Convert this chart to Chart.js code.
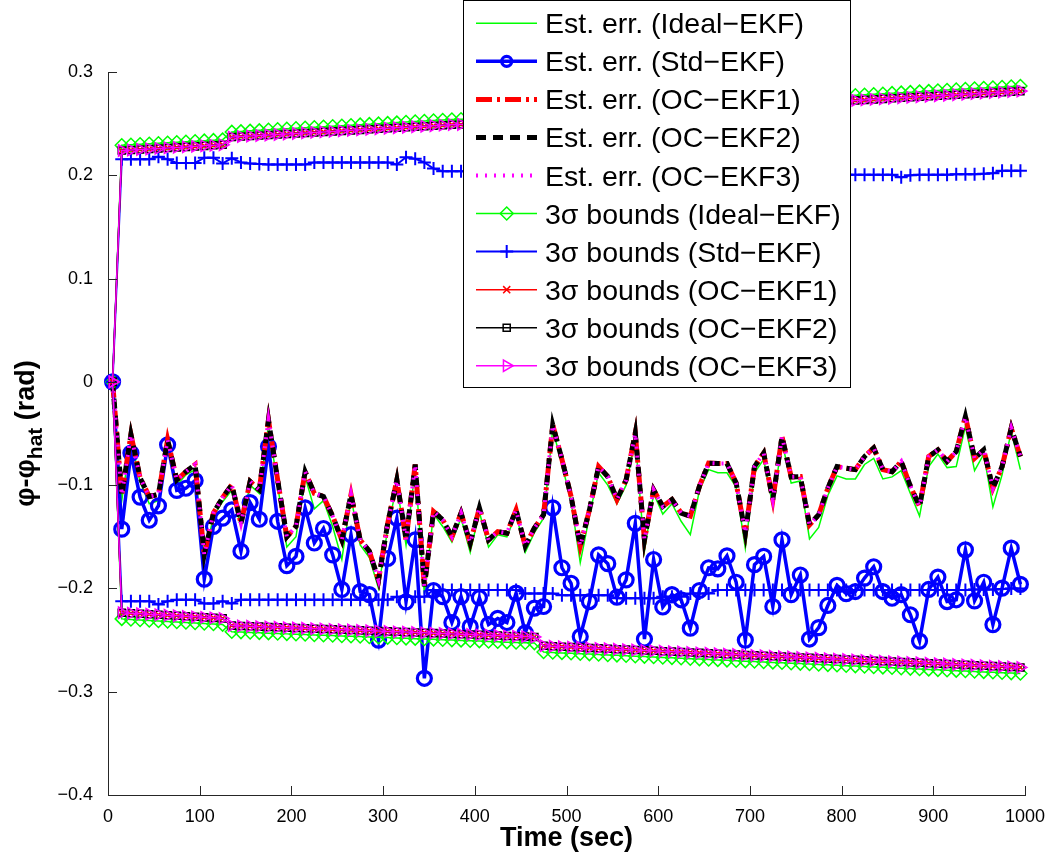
<!DOCTYPE html>
<html>
<head>
<meta charset="utf-8">
<title>Heading error</title>
<script src="https://cdn.jsdelivr.net/npm/chart.js@4.4.0/dist/chart.umd.min.js"></script>
<style>
  html, body { margin: 0; padding: 0; background: #fff; }
  #wrap { width: 1054px; height: 860px; }
</style>
</head>
<body>
<div id="wrap"><canvas id="myChart" width="1054" height="860"></canvas></div>
<script>
const FONT = "'Liberation Sans', Arial, Helvetica, sans-serif";

// time stamps (sec)
const times = [
  5, 15, 25, 35, 45, 55, 65, 75, 85, 95,
  105, 115, 125, 135, 145, 155, 165, 175, 185, 195,
  205, 215, 225, 235, 245, 255, 265, 275, 285, 295,
  305, 315, 325, 335, 345, 355, 365, 375, 385, 395,
  405, 415, 425, 435, 445, 455, 465, 475, 485, 495,
  505, 515, 525, 535, 545, 555, 565, 575, 585, 595,
  605, 615, 625, 635, 645, 655, 665, 675, 685, 695,
  705, 715, 725, 735, 745, 755, 765, 775, 785, 795,
  805, 815, 825, 835, 845, 855, 865, 875, 885, 895,
  905, 915, 925, 935, 945, 955, 965, 975, 985, 995
];

// estimation errors
const errIdeal = [
  0, -0.115, -0.055, -0.097, -0.118, -0.115, -0.06, -0.1, -0.09, -0.085,
  -0.172, -0.13, -0.116, -0.105, -0.14, -0.1, -0.108, -0.042, -0.1, -0.16,
  -0.15, -0.092, -0.123, -0.115, -0.14, -0.172, -0.112, -0.158, -0.17, -0.2,
  -0.142, -0.1, -0.158, -0.085, -0.205, -0.128, -0.14, -0.155, -0.132, -0.165,
  -0.126, -0.16, -0.148, -0.15, -0.128, -0.165, -0.146, -0.132, -0.046, -0.08,
  -0.116, -0.175, -0.13, -0.088, -0.1, -0.118, -0.1, -0.055, -0.164, -0.108,
  -0.128, -0.118, -0.135, -0.148, -0.105, -0.085, -0.088, -0.088, -0.102, -0.161,
  -0.088, -0.075, -0.12, -0.058, -0.098, -0.096, -0.152, -0.141, -0.11, -0.091,
  -0.094, -0.094, -0.08, -0.074, -0.094, -0.092, -0.086, -0.108, -0.13, -0.082,
  -0.07, -0.083, -0.082, -0.043, -0.086, -0.07, -0.121, -0.09, -0.048, -0.085
];

const errStd = [
  0, -0.1426, -0.069, -0.1116, -0.134, -0.12, -0.061, -0.105, -0.103, -0.0955,
  -0.191, -0.14, -0.132, -0.124, -0.164, -0.117, -0.133, -0.0626, -0.135, -0.178,
  -0.169, -0.122, -0.156, -0.142, -0.1675, -0.201, -0.148, -0.203, -0.206, -0.25,
  -0.171, -0.132, -0.213, -0.153, -0.287, -0.202, -0.208, -0.233, -0.208, -0.237,
  -0.209, -0.235, -0.229, -0.233, -0.2045, -0.243, -0.219, -0.2175, -0.122, -0.18,
  -0.195, -0.2465, -0.2127, -0.1675, -0.176, -0.2085, -0.1917, -0.137, -0.249, -0.172,
  -0.218, -0.206, -0.211, -0.2385, -0.202, -0.18, -0.181, -0.1685, -0.194, -0.25,
  -0.177, -0.169, -0.2175, -0.153, -0.206, -0.187, -0.249, -0.238, -0.2165, -0.197,
  -0.205, -0.203, -0.19, -0.179, -0.203, -0.2095, -0.206, -0.2255, -0.251, -0.201,
  -0.189, -0.2127, -0.211, -0.1626, -0.212, -0.194, -0.235, -0.1997, -0.161, -0.196
];

// OC-EKF1/2/3 errors overlap in the picture
const errOC = [
  0, -0.11, -0.051, -0.093, -0.111, -0.109, -0.056, -0.095, -0.087, -0.08,
  -0.1675, -0.127, -0.112, -0.0997, -0.137, -0.0965, -0.1045, -0.037, -0.095, -0.15,
  -0.14, -0.087, -0.108, -0.111, -0.13, -0.153, -0.109, -0.153, -0.164, -0.192,
  -0.137, -0.095, -0.153, -0.08, -0.198, -0.1255, -0.1335, -0.15, -0.127, -0.156,
  -0.122, -0.153, -0.145, -0.1465, -0.124, -0.159, -0.1416, -0.1287, -0.0416, -0.075,
  -0.111, -0.159, -0.124, -0.082, -0.0917, -0.114, -0.095, -0.0497, -0.153, -0.1045,
  -0.1207, -0.114, -0.127, -0.13, -0.101, -0.0787, -0.079, -0.079, -0.098, -0.1465,
  -0.082, -0.069, -0.114, -0.053, -0.092, -0.0917, -0.1384, -0.1287, -0.103, -0.082,
  -0.0836, -0.085, -0.0723, -0.064, -0.085, -0.087, -0.077, -0.101, -0.1207, -0.0723,
  -0.0658, -0.077, -0.0675, -0.0336, -0.074, -0.0658, -0.103, -0.082, -0.0448, -0.0723
];

// 3 sigma bounds
const bndIdealUp = [
  0, 0.229, 0.2295, 0.23, 0.2305, 0.231, 0.2315, 0.232, 0.2325, 0.233,
  0.2335, 0.234, 0.2345, 0.242, 0.2425, 0.243, 0.2435, 0.244, 0.2445, 0.245,
  0.2455, 0.246, 0.2465, 0.247, 0.2475, 0.248, 0.2485, 0.249, 0.2495, 0.25,
  0.2505, 0.251, 0.2515, 0.252, 0.2525, 0.253, 0.2535, 0.254, 0.2542, 0.2545,
  0.2548, 0.2551, 0.2554, 0.2557, 0.256, 0.2563, 0.2566, 0.2605, 0.261, 0.2615,
  0.262, 0.2625, 0.263, 0.2635, 0.264, 0.2645, 0.265, 0.2655, 0.266, 0.2665,
  0.267, 0.2675, 0.268, 0.2685, 0.269, 0.2695, 0.27, 0.2705, 0.271, 0.2715,
  0.272, 0.2725, 0.273, 0.2735, 0.274, 0.2745, 0.275, 0.2755, 0.276, 0.2765,
  0.277, 0.2775, 0.278, 0.2785, 0.279, 0.2795, 0.28, 0.2805, 0.281, 0.2815,
  0.282, 0.2825, 0.283, 0.2835, 0.284, 0.2845, 0.285, 0.2855, 0.286, 0.2865
];
const bndIdealLo = [
  0, -0.2295, -0.23, -0.2305, -0.231, -0.2315, -0.232, -0.2325, -0.233, -0.2335,
  -0.234, -0.2345, -0.235, -0.242, -0.2423, -0.2426, -0.243, -0.2433, -0.2436, -0.244,
  -0.2443, -0.2446, -0.245, -0.2453, -0.2456, -0.246, -0.2463, -0.2466, -0.247, -0.2473,
  -0.2476, -0.248, -0.2483, -0.2486, -0.249, -0.2493, -0.2496, -0.25, -0.2503, -0.2506,
  -0.251, -0.2513, -0.2516, -0.252, -0.2523, -0.2526, -0.2529, -0.2615, -0.262, -0.2624,
  -0.2628, -0.2632, -0.2636, -0.264, -0.2644, -0.2648, -0.2652, -0.2656, -0.266, -0.2664,
  -0.2668, -0.2672, -0.2676, -0.268, -0.2684, -0.2688, -0.2692, -0.2696, -0.27, -0.2704,
  -0.2708, -0.2712, -0.2716, -0.272, -0.2724, -0.2728, -0.2732, -0.2736, -0.274, -0.2744,
  -0.2748, -0.2752, -0.2756, -0.276, -0.2764, -0.2768, -0.2772, -0.2776, -0.278, -0.2784,
  -0.2788, -0.2792, -0.2796, -0.28, -0.2804, -0.2808, -0.2812, -0.2816, -0.282, -0.2824
];

const bndStdUp = [
  0, 0.2155, 0.2155, 0.2155, 0.2155, 0.218, 0.2155, 0.212, 0.212, 0.212,
  0.217, 0.217, 0.2115, 0.2165, 0.2125, 0.2115, 0.211, 0.2105, 0.2105, 0.2105,
  0.2105, 0.2105, 0.2125, 0.2125, 0.2125, 0.2125, 0.2125, 0.2125, 0.2125, 0.2125,
  0.2125, 0.2105, 0.2175, 0.216, 0.2125, 0.2065, 0.204, 0.204, 0.204, 0.2035,
  0.2035, 0.203, 0.203, 0.203, 0.2025, 0.2025, 0.2025, 0.202, 0.202, 0.202,
  0.202, 0.2015, 0.2015, 0.2015, 0.2015, 0.2015, 0.2015, 0.2015, 0.2015, 0.2015,
  0.201, 0.201, 0.201, 0.201, 0.201, 0.201, 0.201, 0.201, 0.201, 0.201,
  0.201, 0.201, 0.201, 0.201, 0.201, 0.201, 0.2005, 0.2005, 0.2005, 0.2005,
  0.2005, 0.2005, 0.2005, 0.2005, 0.2005, 0.2005, 0.198, 0.2, 0.2005, 0.2005,
  0.2005, 0.2005, 0.201, 0.201, 0.201, 0.2015, 0.202, 0.2045, 0.2045, 0.2045
];
const bndStdLo = [
  0, -0.2125, -0.2125, -0.2125, -0.2125, -0.2155, -0.2125, -0.211, -0.211, -0.211,
  -0.2145, -0.2145, -0.2125, -0.2145, -0.211, -0.211, -0.211, -0.211, -0.211, -0.211,
  -0.211, -0.211, -0.211, -0.211, -0.211, -0.211, -0.211, -0.211, -0.211, -0.211,
  -0.211, -0.208, -0.208, -0.208, -0.208, -0.2015, -0.2015, -0.2015, -0.2015, -0.2015,
  -0.2015, -0.2015, -0.2015, -0.2015, -0.2015, -0.205, -0.205, -0.205, -0.205, -0.2065,
  -0.2065, -0.2065, -0.2065, -0.2065, -0.2065, -0.2095, -0.2095, -0.2095, -0.2095, -0.2095,
  -0.208, -0.208, -0.208, -0.205, -0.205, -0.205, -0.2015, -0.2015, -0.2015, -0.2015,
  -0.2015, -0.2015, -0.2015, -0.2015, -0.2015, -0.2015, -0.2015, -0.2015, -0.2015, -0.2015,
  -0.2015, -0.2015, -0.2015, -0.2015, -0.2015, -0.2015, -0.2015, -0.2015, -0.2015, -0.2015,
  -0.2015, -0.2015, -0.2015, -0.2015, -0.201, -0.201, -0.201, -0.2005, -0.2, -0.2
];

// OC-EKF1/2/3 bounds overlap in the picture
const bndOCUp = [
  0, 0.224, 0.2245, 0.225, 0.2255, 0.226, 0.2265, 0.227, 0.2275, 0.228,
  0.2285, 0.229, 0.2295, 0.237, 0.2375, 0.238, 0.2385, 0.239, 0.2395, 0.24,
  0.2405, 0.241, 0.2415, 0.242, 0.2425, 0.243, 0.2435, 0.244, 0.2445, 0.245,
  0.2455, 0.246, 0.2465, 0.247, 0.2475, 0.248, 0.2485, 0.249, 0.2492, 0.2495,
  0.2498, 0.25, 0.2503, 0.2506, 0.2509, 0.2512, 0.2515, 0.2555, 0.256, 0.2565,
  0.257, 0.2575, 0.258, 0.2585, 0.259, 0.2595, 0.26, 0.2605, 0.261, 0.2615,
  0.262, 0.2625, 0.263, 0.2635, 0.264, 0.2645, 0.265, 0.2655, 0.266, 0.2665,
  0.267, 0.2675, 0.268, 0.2685, 0.269, 0.2695, 0.27, 0.2705, 0.271, 0.2715,
  0.272, 0.2725, 0.273, 0.2735, 0.274, 0.2745, 0.275, 0.2755, 0.276, 0.2765,
  0.277, 0.2775, 0.278, 0.2785, 0.279, 0.2795, 0.28, 0.2805, 0.281, 0.2815
];
const bndOCLo = [
  0, -0.2235, -0.224, -0.2245, -0.225, -0.2255, -0.226, -0.2265, -0.227, -0.2275,
  -0.228, -0.2285, -0.229, -0.236, -0.2363, -0.2366, -0.237, -0.2373, -0.2376, -0.238,
  -0.2383, -0.2386, -0.239, -0.2393, -0.2396, -0.24, -0.2403, -0.2406, -0.241, -0.2413,
  -0.2416, -0.242, -0.2423, -0.2426, -0.243, -0.2433, -0.2436, -0.244, -0.2443, -0.2446,
  -0.245, -0.2453, -0.2456, -0.246, -0.2463, -0.2466, -0.247, -0.2555, -0.256, -0.2564,
  -0.2568, -0.2572, -0.2576, -0.258, -0.2584, -0.2588, -0.2592, -0.2596, -0.26, -0.2604,
  -0.2608, -0.2612, -0.2616, -0.262, -0.2624, -0.2628, -0.2632, -0.2636, -0.264, -0.2644,
  -0.2648, -0.2652, -0.2656, -0.266, -0.2664, -0.2668, -0.2672, -0.2676, -0.268, -0.2684,
  -0.2688, -0.2692, -0.2696, -0.27, -0.2704, -0.2708, -0.2712, -0.2716, -0.272, -0.2724,
  -0.2728, -0.2732, -0.2736, -0.274, -0.2744, -0.2748, -0.2752, -0.2756, -0.276, -0.2765
];

const xTicks = [0, 100, 200, 300, 400, 500, 600, 700, 800, 900, 1000];
const yTicks = [-0.4, -0.3, -0.2, -0.1, 0, 0.1, 0.2, 0.3];

const GREEN = "#00ff00", BLUE = "#0000ff", RED = "#ff0000", BLACK = "#000000", MAGENTA = "#ff00ff";
const NONE = "rgba(0,0,0,0)";

// line + marker styles (shared by plot and legend)
const styles = {
  errIdeal: { color: GREEN,   width: 1.5 },
  errStd:   { color: BLUE,    width: 3.5, marker: "circle",   r: 7,   mw: 3.2 },
  errOC1:   { color: RED,     width: 5,   dash: [16, 5, 3, 5] },
  errOC2:   { color: BLACK,   width: 5,   dash: [10, 7] },
  errOC3:   { color: MAGENTA, width: 4,   dash: [2, 7] },
  bIdeal:   { color: GREEN,   width: 1.5, marker: "rectRot",  r: 6.5, mw: 1.5 },
  bStd:     { color: BLUE,    width: 2,   marker: "cross",    r: 6.5, mw: 2 },
  bOC1:     { color: RED,     width: 1.5, marker: "crossRot", r: 5,   mw: 1.5 },
  bOC2:     { color: BLACK,   width: 1.5, marker: "rect",     r: 5,   mw: 1.5 },
  bOC3:     { color: MAGENTA, width: 1.5, marker: "triangle", r: 6.5, mw: 1.5, rot: 90 }
};

function series (label, values, st) {
  return {
    label: label,
    data: values.map((v, i) => ({ x: times[i], y: v })),
    borderColor: st.color,
    borderWidth: st.width,
    borderDash: st.dash || [],
    fill: false,
    tension: 0,
    clip: false,
    pointStyle: st.marker || "circle",
    pointRadius: st.marker ? st.r : 0,
    pointHoverRadius: st.marker ? st.r : 0,
    pointBorderWidth: st.mw || 0,
    pointBorderColor: st.color,
    pointBackgroundColor: NONE,
    pointRotation: st.rot || 0
  };
}

let datasets = [
  series("Est. err. (Ideal\u2212EKF)", errIdeal, styles.errIdeal),
  series("Est. err. (Std\u2212EKF)", errStd, styles.errStd),
  series("Est. err. (OC\u2212EKF1)", errOC, styles.errOC1),
  series("Est. err. (OC\u2212EKF2)", errOC, styles.errOC2),
  series("Est. err. (OC\u2212EKF3)", errOC, styles.errOC3),
  series("3\u03c3 bounds (Ideal\u2212EKF)", bndIdealUp, styles.bIdeal),
  series("3\u03c3 bounds (Ideal\u2212EKF) lower", bndIdealLo, styles.bIdeal),
  series("3\u03c3 bounds (Std\u2212EKF)", bndStdUp, styles.bStd),
  series("3\u03c3 bounds (Std\u2212EKF) lower", bndStdLo, styles.bStd),
  series("3\u03c3 bounds (OC\u2212EKF1)", bndOCUp, styles.bOC1),
  series("3\u03c3 bounds (OC\u2212EKF1) lower", bndOCLo, styles.bOC1),
  series("3\u03c3 bounds (OC\u2212EKF2)", bndOCUp, styles.bOC2),
  series("3\u03c3 bounds (OC\u2212EKF2) lower", bndOCLo, styles.bOC2),
  series("3\u03c3 bounds (OC\u2212EKF3)", bndOCUp, styles.bOC3),
  series("3\u03c3 bounds (OC\u2212EKF3) lower", bndOCLo, styles.bOC3)
];
// later series on top, as in the original plot
datasets.forEach((d, i) => { d.order = datasets.length - i; });

const legendRows = [
  ["Est. err. (Ideal\u2212EKF)", styles.errIdeal],
  ["Est. err. (Std\u2212EKF)", styles.errStd],
  ["Est. err. (OC\u2212EKF1)", styles.errOC1],
  ["Est. err. (OC\u2212EKF2)", styles.errOC2],
  ["Est. err. (OC\u2212EKF3)", styles.errOC3],
  ["3\u03c3 bounds (Ideal\u2212EKF)", styles.bIdeal],
  ["3\u03c3 bounds (Std\u2212EKF)", styles.bStd],
  ["3\u03c3 bounds (OC\u2212EKF1)", styles.bOC1],
  ["3\u03c3 bounds (OC\u2212EKF2)", styles.bOC2],
  ["3\u03c3 bounds (OC\u2212EKF3)", styles.bOC3]
];

function drawMarker (ctx, st, x, y, r) {
  ctx.save();
  ctx.setLineDash([]);
  ctx.strokeStyle = st.color;
  ctx.lineWidth = st.mw;
  ctx.beginPath();
  let d = r * Math.SQRT1_2;
  switch (st.marker) {
    case "circle":
      ctx.arc(x, y, r, 0, Math.PI * 2);
      break;
    case "rectRot":
      ctx.moveTo(x, y - r); ctx.lineTo(x + r, y); ctx.lineTo(x, y + r); ctx.lineTo(x - r, y); ctx.closePath();
      break;
    case "cross":
      ctx.moveTo(x - r, y); ctx.lineTo(x + r, y); ctx.moveTo(x, y - r); ctx.lineTo(x, y + r);
      break;
    case "crossRot":
      ctx.moveTo(x - d, y - d); ctx.lineTo(x + d, y + d); ctx.moveTo(x - d, y + d); ctx.lineTo(x + d, y - d);
      break;
    case "rect":
      ctx.rect(x - d, y - d, 2 * d, 2 * d);
      break;
    case "triangle":
      ctx.moveTo(x + r, y); ctx.lineTo(x - r / 2, y - r * 0.866); ctx.lineTo(x - r / 2, y + r * 0.866); ctx.closePath();
      break;
  }
  ctx.stroke();
  ctx.restore();
}

const overlay = {
  id: "overlay",
  afterDraw (chart) {
    let ctx  = chart.ctx;
    let area = chart.chartArea;
    let xs   = chart.scales.x;
    let ys   = chart.scales.y;

    ctx.save();
    // inward tick marks
    ctx.strokeStyle = "#262626";
    ctx.lineWidth = 1;
    ctx.beginPath();
    xs.ticks.forEach((t) => {
      let px = Math.round(xs.getPixelForValue(t.value)) + 0.5;
      ctx.moveTo(px, area.bottom);
      ctx.lineTo(px, area.bottom - 9);
    });
    ys.ticks.forEach((t) => {
      let py = Math.round(ys.getPixelForValue(t.value)) + 0.5;
      ctx.moveTo(area.left, py);
      ctx.lineTo(area.left + 9, py);
    });
    ctx.stroke();

    // y axis title with subscript
    let main1 = "\u03c6-\u03c6", sub = "hat", main2 = " (rad)";
    let bigFont = "bold 27px " + FONT, smallFont = "bold 21px " + FONT;
    ctx.font = bigFont;
    let w1 = ctx.measureText(main1).width;
    let w3 = ctx.measureText(main2).width;
    ctx.font = smallFont;
    let w2 = ctx.measureText(sub).width;
    let total = w1 + w2 + w3;
    ctx.translate(34, (area.top + area.bottom) / 2);
    ctx.rotate(-Math.PI / 2);
    ctx.fillStyle = "#000";
    ctx.textBaseline = "alphabetic";
    ctx.textAlign = "left";
    let sx = -total / 2;
    ctx.font = bigFont;
    ctx.fillText(main1, sx, 0);
    ctx.font = smallFont;
    ctx.fillText(sub, sx + w1, 8);
    ctx.font = bigFont;
    ctx.fillText(main2, sx + w1 + w2, 0);
    ctx.restore();

    // legend box
    ctx.save();
    let bx = 463.5, by = 0.5, bw = 387, bh = 387;
    ctx.fillStyle = "#fff";
    ctx.fillRect(bx, by, bw, bh);
    ctx.strokeStyle = "#000";
    ctx.lineWidth = 1;
    ctx.strokeRect(bx, by, bw, bh);
    ctx.font = "28.5px " + FONT;
    ctx.textAlign = "left";
    ctx.textBaseline = "alphabetic";
    legendRows.forEach(([text, st], i) => {
      let cy = 23.3 + 38.05 * i;
      ctx.save();
      ctx.strokeStyle = st.color;
      ctx.lineWidth = st.width;
      ctx.setLineDash(st.dash || []);
      ctx.beginPath();
      ctx.moveTo(476, cy);
      ctx.lineTo(537, cy);
      ctx.stroke();
      ctx.restore();
      if (st.marker) {
        let r = st.marker === "circle" ? 5 : st.r;
        drawMarker(ctx, st, 506.7, cy, r);
      }
      ctx.fillStyle = "#000";
      ctx.fillText(text, 545, cy + 10);
    });
    ctx.restore();
  }
};

let ctx = document.getElementById("myChart");
let chart = new Chart(ctx, {
  type: "line",
  data: { datasets: datasets },
  options: {
    responsive: false,
    animation: false,
    devicePixelRatio: 1,
    layout: { padding: { top: 72, right: 29, bottom: 0, left: 0 } },
    plugins: {
      legend: { display: false },
      tooltip: { enabled: false },
      title: { display: false }
    },
    elements: { line: { tension: 0 } },
    scales: {
      x: {
        type: "linear",
        min: 0,
        max: 1000,
        afterFit: (s) => { s.height = 65; },
        afterBuildTicks: (s) => { s.ticks = xTicks.map((v) => ({ value: v })); },
        grid: { display: false },
        border: { display: true, color: "#262626", width: 1 },
        ticks: {
          autoSkip: false,
          maxRotation: 0,
          padding: 3,
          color: "#000",
          font: { family: FONT, size: 18 },
          callback: (v) => String(v)
        },
        title: {
          display: true,
          text: "Time (sec)",
          color: "#000",
          font: { family: FONT, size: 27, weight: "bold" },
          padding: { top: 0, bottom: 5 }
        }
      },
      y: {
        type: "linear",
        min: -0.4,
        max: 0.3,
        afterFit: (s) => { s.width = 108; },
        afterBuildTicks: (s) => { s.ticks = yTicks.map((v) => ({ value: v })); },
        grid: { display: false },
        border: { display: true, color: "#262626", width: 1 },
        ticks: {
          padding: 7,
          color: "#000",
          font: { family: FONT, size: 18 },
          callback: (v) => Math.abs(v) < 1e-9 ? "0" : v.toFixed(1).replace("-", "\u2212")
        }
      }
    }
  },
  plugins: [overlay]
});
</script>
</body>
</html>
